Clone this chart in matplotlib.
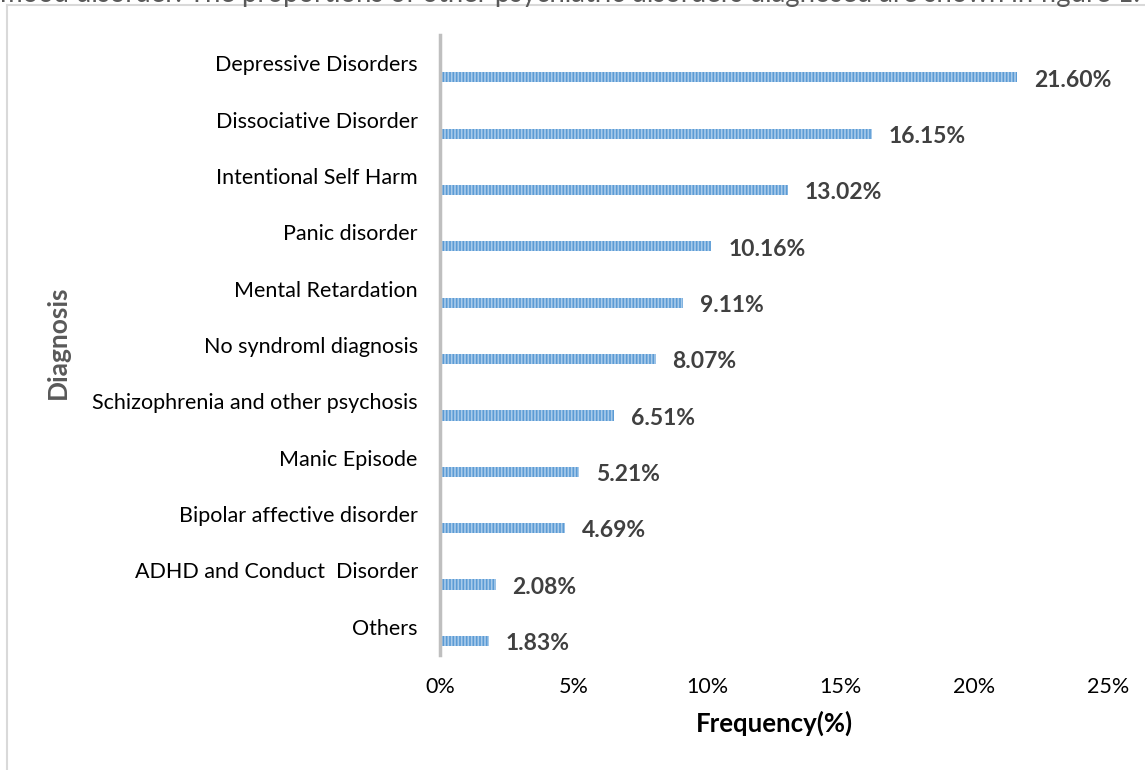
import matplotlib
matplotlib.use("Agg")
import matplotlib.pyplot as plt
from matplotlib.lines import Line2D
from matplotlib.ticker import FuncFormatter

# data, bottom to top as drawn
diagnosis = ["Others", "ADHD and Conduct  Disorder", "Bipolar affective disorder",
             "Manic Episode", "Schizophrenia and other psychosis", "No syndroml diagnosis",
             "Mental Retardation", "Panic disorder", "Intentional Self Harm",
             "Dissociative Disorder", "Depressive Disorders"]
frequency = [1.83, 2.08, 4.69, 5.21, 6.51, 8.07, 9.11, 10.16, 13.02, 16.15, 21.60]
x_ticks = [0, 5, 10, 15, 20, 25]

plt.rcParams['font.family'] = ['Lato', 'DejaVu Sans']
plt.rcParams['hatch.linewidth'] = 1.2

fig = plt.figure(figsize=(11.45, 7.7), dpi=100)
ax = fig.add_axes([440/1145, 1-655/770, 668/1145, 620/770])

ypos = list(range(len(diagnosis)))
bar_y = [p - 0.25 for p in ypos]
ax.barh(bar_y, frequency, height=0.18, color='#5B9BD5', edgecolor='#A9CBEA',
        linewidth=0, hatch='|||||')

# value labels to the right of each bar
for yv, val in zip(bar_y, frequency):
    ax.annotate(f"{val:.2f}%", (val, yv), xytext=(12, -2), textcoords='offset points',
                va='center', ha='left', fontsize=16.5, fontweight='bold', color='#404040')

ax.set_xlim(0, 25)
ax.set_ylim(-0.5, 10.5)
ax.set_yticks(ypos)
ax.set_yticklabels(diagnosis)
ax.set_xticks(x_ticks)
ax.xaxis.set_major_formatter(FuncFormatter(lambda v, p: f"{v:.0f}%"))
ax.tick_params(axis='both', length=0, labelsize=15.5, colors='black')
ax.tick_params(axis='y', pad=16)
ax.tick_params(axis='x', pad=16)

for s in ['top', 'right', 'bottom']:
    ax.spines[s].set_visible(False)
ax.spines['left'].set_color('#BFBFBF')
ax.spines['left'].set_linewidth(2.5)

ax.set_xlabel("Frequency(%)", fontsize=18.5, fontweight='bold', color='black', labelpad=10)
fig.text(58/1145, 1-342/770, "Diagnosis", rotation=90, fontsize=19, fontweight='bold',
         color='#595959', ha='center', va='center')

# chart border and cut-off caption text from the page
fig.add_artist(Line2D([7/1145, 1.0], [1-5/770, 1-5/770], color='#D9D9D9', lw=1.5))
fig.add_artist(Line2D([7/1145, 7/1145], [1-5/770, 0.0], color='#D9D9D9', lw=1.5))
fig.text(0.0, 1.0 + 6/770, "mood disorder. The proportions of other psychiatric disorders diagnosed are shown in figure 1.",
         fontsize=19.8, color='#595959', ha='left', va='center')

plt.savefig('out.png', dpi=100)
